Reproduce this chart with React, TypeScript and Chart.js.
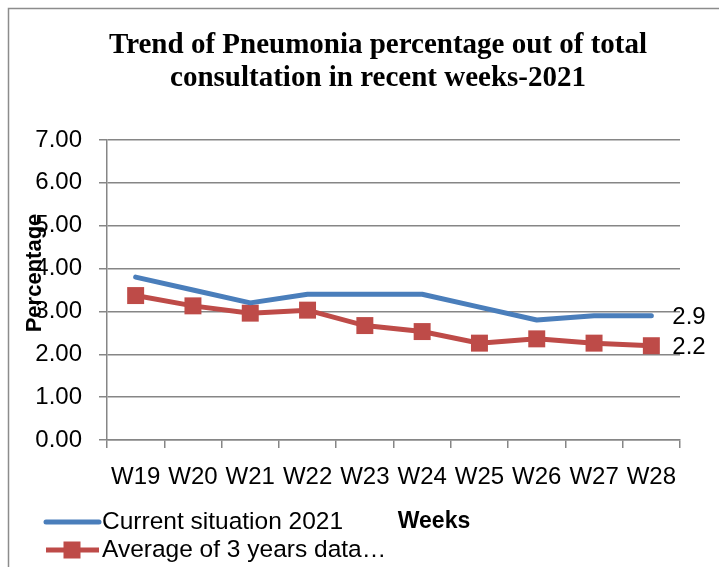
import React, { useEffect, useRef } from "react";
import { Chart, registerables } from "chart.js";

Chart.register(...registerables);

const weeks = ["W19", "W20", "W21", "W22", "W23", "W24", "W25", "W26", "W27", "W28"];
const current2021 = [3.8, 3.5, 3.2, 3.4, 3.4, 3.4, 3.1, 2.8, 2.9, 2.9];
const avg3Years = [3.37, 3.13, 2.96, 3.03, 2.67, 2.53, 2.26, 2.36, 2.26, 2.2];
const seriesNames = ["Current situation 2021", "Average of 3 years data…"];
const titleLines = ["Trend of Pneumonia percentage out of total", "consultation in recent weeks-2021"];
const yTitle = "Percentage";
const xTitle = "Weeks";

const BLUE = "#4A7EBB";
const RED = "#BE4B48";
const GRID = "#868686";
const SANS = "'Liberation Sans', Arial, sans-serif";

const decorPlugin = {
  id: "decor",
  beforeDraw(chart: any) {
    const ctx = chart.ctx;
    ctx.save();
    ctx.fillStyle = "#ffffff";
    ctx.fillRect(0, 0, chart.width, chart.height);
    ctx.strokeStyle = "#8c8c8c";
    ctx.lineWidth = 1.5;
    ctx.beginPath();
    ctx.moveTo(8.5, chart.height);
    ctx.lineTo(8.5, 8.5);
    ctx.lineTo(chart.width, 8.5);
    ctx.stroke();
    ctx.restore();
  },
  afterDraw(chart: any) {
    const ctx = chart.ctx;
    ctx.save();
    // title
    ctx.fillStyle = "#000";
    ctx.textAlign = "center";
    ctx.textBaseline = "middle";
    ctx.font = "bold 29px 'Liberation Serif', 'Times New Roman', serif";
    ctx.fillText(titleLines[0], 378, 46);
    ctx.fillText(titleLines[1], 378, 79);

    // y title
    ctx.save();
    ctx.translate(35, 273);
    ctx.rotate(-Math.PI / 2);
    ctx.font = "bold 22px " + SANS;
    ctx.fillText(yTitle, 0, 0);
    ctx.restore();

    // x title
    ctx.font = "bold 23px " + SANS;
    ctx.fillText(xTitle, 434, 522);

    // legend
    const rows = [522, 550];
    ctx.font = "24.5px " + SANS;
    ctx.textAlign = "left";
    chart.data.datasets.forEach((ds: any, i: number) => {
      const y = rows[i];
      ctx.strokeStyle = ds.borderColor;
      ctx.lineWidth = 5;
      ctx.lineCap = i === 0 ? "round" : "butt";
      ctx.beginPath();
      ctx.moveTo(46, y);
      ctx.lineTo(99, y);
      ctx.stroke();
      if (i === 1) {
        ctx.fillStyle = ds.backgroundColor;
        ctx.fillRect(72 - 8.5, y - 8.5, 17, 17);
      }
      ctx.fillStyle = "#000";
      ctx.fillText(ds.label, 102, y);
    });

    // data labels at last point
    ctx.font = "24px " + SANS;
    chart.data.datasets.forEach((ds: any, i: number) => {
      const meta = chart.getDatasetMeta(i);
      const last = meta.data[meta.data.length - 1];
      const v = ds.data[ds.data.length - 1];
      ctx.fillStyle = "#000";
      ctx.textAlign = "left";
      ctx.textBaseline = "middle";
      ctx.fillText(Number(v).toFixed(1), last.x + 21, last.y + 2);
    });
    ctx.restore();
  },
};

export default function App() {
  const ref = useRef<HTMLCanvasElement | null>(null);
  useEffect(() => {
    if (!ref.current) return;
    const chart = new Chart(ref.current, {
      type: "line",
      data: {
        labels: weeks,
        datasets: [
          {
            label: seriesNames[0],
            data: current2021,
            borderColor: BLUE,
            backgroundColor: BLUE,
            borderWidth: 5,
            borderCapStyle: "round",
            borderJoinStyle: "round",
            pointRadius: 0,
            tension: 0,
          },
          {
            label: seriesNames[1],
            data: avg3Years,
            borderColor: RED,
            backgroundColor: RED,
            borderWidth: 5,
            pointStyle: "rect",
            pointRadius: 12,
            pointBorderWidth: 0,
            tension: 0,
          },
        ],
      },
      options: {
        animation: false,
        responsive: false,
        maintainAspectRatio: false,
        layout: { padding: { left: 0, right: 39, top: 140, bottom: 0 } },
        plugins: {
          legend: { display: false },
          title: { display: false },
          tooltip: { enabled: false },
        },
        scales: {
          y: {
            min: 0,
            max: 7,
            ticks: {
              stepSize: 1,
              callback: (v: any) => Number(v).toFixed(2),
              color: "#000",
              font: { family: SANS, size: 24 },
              padding: 17,
            },
            grid: { color: GRID, lineWidth: 1.5, tickLength: 8 },
            border: { color: GRID, width: 1.5 },
            afterFit: (s: any) => {
              s.width = 107;
            },
          },
          x: {
            offset: true,
            ticks: {
              color: "#000",
              font: { family: SANS, size: 24 },
              padding: 15,
              maxRotation: 0,
              autoSkip: false,
            },
            grid: { drawOnChartArea: false, offset: true, color: GRID, lineWidth: 1.5, tickLength: 8 },
            border: { color: GRID, width: 1.5 },
            afterFit: (s: any) => {
              s.height = 127;
            },
          },
        },
      },
      plugins: [decorPlugin],
    } as any);
    return () => chart.destroy();
  }, []);
  return (
    <div style={{ position: "absolute", left: 0, top: 0, width: 719, height: 567 }}>
      <canvas ref={ref} width={719} height={567} style={{ width: 719, height: 567, display: "block" }} />
    </div>
  );
}
